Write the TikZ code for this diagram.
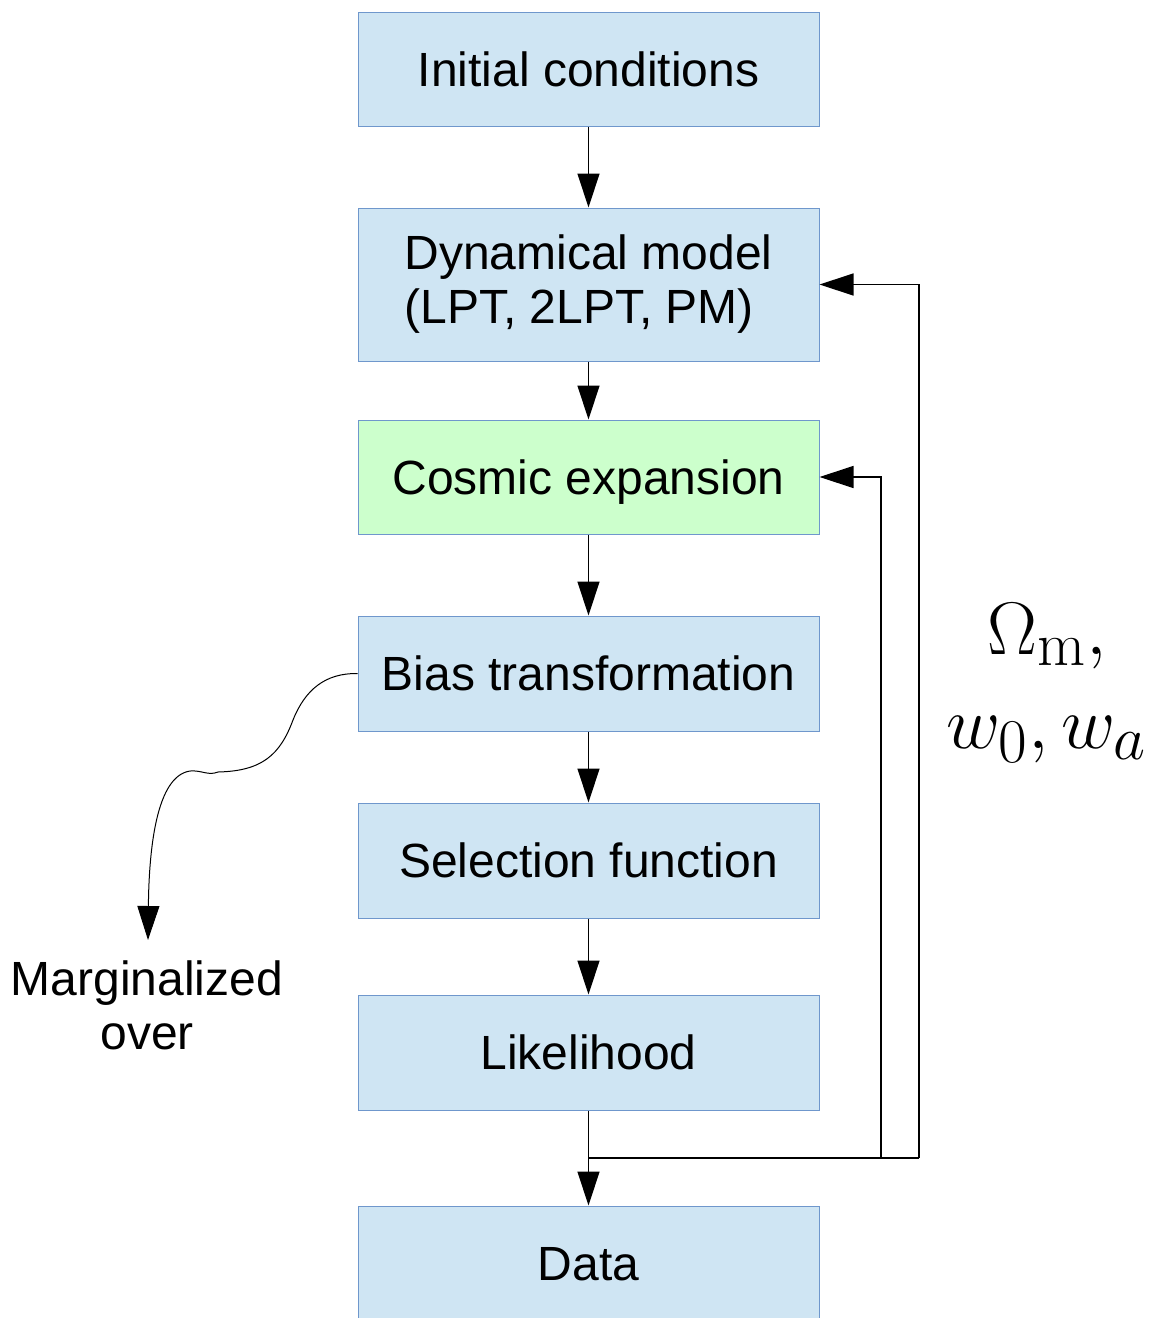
\documentclass[tikz,border=0pt]{standalone}
\usepackage[no-math]{fontspec}
\setmainfont{Liberation Sans}
\usetikzlibrary{arrows.meta}
\definecolor{boxblue}{HTML}{CFE5F3}
\definecolor{boxedge}{HTML}{6F97CC}
\definecolor{boxgreen}{HTML}{CCFFCC}
\newcommand{\bigmath}[1]{\scalebox{3.0}{$#1$}}

\begin{document}
\begin{tikzpicture}[x=1pt,y=-1pt,
  stage/.style={draw=boxedge, line width=1pt, fill=boxblue,
    minimum width=461pt, minimum height=115pt, inner sep=0pt,
    text depth=0pt, align=left, font=\fontsize{48}{54}\selectfont},
  link/.style={line width=1.3pt},
  flow/.style={link, -{Triangle[length=34pt,width=22pt]}}]
\useasboundingbox (0,0) rectangle (1151,1318);

% pipeline stages
\node[stage, minimum height=114pt] (ic)  at (588.5,69)     {Initial conditions};
\node[stage, minimum height=153pt, text depth=11pt] (dyn) at (588.5,284.5)  {Dynamical model\\(LPT, 2LPT, PM)};
\node[stage, minimum height=114pt, fill=boxgreen] (cos) at (588.5,477) {Cosmic expansion};
\node[stage] (bias) at (588.5,673.5)  {Bias transformation};
\node[stage] (sel)  at (588.5,860.5)  {Selection function};
\node[stage] (lik)  at (588.5,1052.5) {Likelihood};
\node[stage] (data) at (588.5,1263.5) {Data};

% main chain
\draw[flow] (ic) -- (dyn);
\draw[flow] (dyn) -- (cos);
\draw[flow] (cos) -- (bias);
\draw[flow] (bias) -- (sel);
\draw[flow] (sel) -- (lik);
\draw[flow] (lik) -- (data);

% feedback of the cosmological parameters
\coordinate (j)  at (588.5,1158);
\coordinate (r1) at (881,1158);
\coordinate (r2) at (919,1158);
\draw[link] (j) -- (r2);
\draw[flow] (r1) |- (cos.east);
\draw[flow] (r2) |- (dyn.east);

\node[font=\fontsize{24.88}{94}\selectfont, align=center] (par) at (1047,683)
  {\bigmath{\Omega_{\mathrm{m}},}\\\bigmath{w_0, w_a}};

% nuisance parameters
\coordinate (mtip) at (148,940);
\draw[flow, line width=1pt] (bias.west) .. controls (325,673) and (305,690) .. (293,720)
  .. controls (280,755) and (262,771) .. (218,772)
  .. controls (208,776) and (202,770) .. (190,771)
  .. controls (156,776) and (149,850) .. (mtip);
\node[font=\fontsize{48}{54}\selectfont, align=center] (marg) at (147,1005)
  {Marginalized\\over};
\end{tikzpicture}
\end{document}
